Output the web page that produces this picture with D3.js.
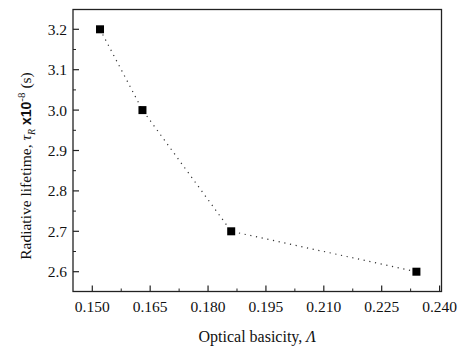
<!DOCTYPE html>
<html>
<head>
<meta charset="utf-8">
<script src="https://cdn.jsdelivr.net/npm/d3@7"></script>
<style>
  body { margin: 0; background: #fff; }
  svg text { font-family: "Liberation Serif", "Times New Roman", serif; fill: #111; }
</style>
</head>
<body>
<svg width="468" height="353"></svg>
<script>
// data
var basicity = [0.152, 0.163, 0.186, 0.234];
var lifetime = [3.2, 3.0, 2.7, 2.6];
var xTicks = [0.150, 0.165, 0.180, 0.195, 0.210, 0.225, 0.240];
var yTicks = [2.6, 2.7, 2.8, 2.9, 3.0, 3.1, 3.2];

var svg = d3.select('svg');
var mLeft = 73, mRight = 441.5, mTop = 9.5, mBottom = 291.5;

var x = d3.scaleLinear().domain([0.145, 0.2405]).range([mLeft, mRight]);
var y = d3.scaleLinear().domain([2.551, 3.249]).range([mBottom, mTop]);

// frame
svg.append('rect').attr('x', mLeft).attr('y', mTop)
  .attr('width', mRight - mLeft).attr('height', mBottom - mTop)
  .attr('fill', 'none').attr('stroke', '#222').attr('stroke-width', 1.3);

// bottom axis, ticks inward
var xMinor = d3.range(0.1575, 0.24, 0.015);
var gx = svg.append('g').attr('transform', 'translate(0,' + mBottom + ')');
gx.selectAll('.maj').data(xTicks).enter().append('line')
  .attr('x1', d => x(d)).attr('x2', d => x(d)).attr('y1', 0).attr('y2', -6)
  .attr('stroke', '#222').attr('stroke-width', 1.2);
gx.selectAll('.min').data(xMinor).enter().append('line')
  .attr('x1', d => x(d)).attr('x2', d => x(d)).attr('y1', 0).attr('y2', -3)
  .attr('stroke', '#222').attr('stroke-width', 1);
gx.selectAll('text').data(xTicks).enter().append('text')
  .attr('x', d => x(d)).attr('y', 20).attr('text-anchor', 'middle')
  .style('font-size', '15.5px').text(d3.format('.3f'));

// left axis, ticks inward
var yMinor = d3.range(2.65, 3.2, 0.1);
var gy = svg.append('g').attr('transform', 'translate(' + mLeft + ',0)');
gy.selectAll('.maj').data(yTicks).enter().append('line')
  .attr('y1', d => y(d)).attr('y2', d => y(d)).attr('x1', 0).attr('x2', 6)
  .attr('stroke', '#222').attr('stroke-width', 1.2);
gy.selectAll('.min').data(yMinor).enter().append('line')
  .attr('y1', d => y(d)).attr('y2', d => y(d)).attr('x1', 0).attr('x2', 3)
  .attr('stroke', '#222').attr('stroke-width', 1);
gy.selectAll('text').data(yTicks).enter().append('text')
  .attr('x', -6).attr('y', d => y(d)).attr('dy', '0.35em').attr('text-anchor', 'end')
  .style('font-size', '15.5px').text(d3.format('.1f'));

// dotted connecting line
var pts = basicity.map((b, i) => [b, lifetime[i]]);
var line = d3.line().x(d => x(d[0])).y(d => y(d[1]));
svg.append('path').datum(pts).attr('d', line)
  .attr('fill', 'none').attr('stroke', '#333').attr('stroke-width', 1.2)
  .attr('stroke-dasharray', '1.2,4.6');

// square markers
svg.selectAll('.pt').data(pts).enter().append('rect')
  .attr('x', d => x(d[0]) - 4).attr('y', d => y(d[1]) - 4)
  .attr('width', 8).attr('height', 8).attr('fill', '#000');

// axis titles
var xt = svg.append('text').attr('x', (mLeft + mRight) / 2).attr('y', 342)
  .attr('text-anchor', 'middle').style('font-size', '16px');
xt.append('tspan').text('Optical basicity, ');
xt.append('tspan').style('font-style', 'italic').text('Λ');

var yt = svg.append('text').attr('transform', 'translate(31,166) rotate(-90)')
  .attr('text-anchor', 'middle').style('font-size', '15.5px');
yt.append('tspan').text('Radiative lifetime, ');
yt.append('tspan').style('font-style', 'italic').text('τ');
yt.append('tspan').style('font-style', 'italic').style('font-size', '10px').attr('dy', 4).text('R');
yt.append('tspan').attr('dy', -4).style('font-family', '"Liberation Sans", Arial, sans-serif')
  .style('font-weight', 'bold').style('font-size', '14px').text(' x10');
yt.append('tspan').attr('dy', -6).style('font-size', '11px').text('-8');
yt.append('tspan').attr('dy', 6).text(' (s)');
</script>
</body>
</html>
